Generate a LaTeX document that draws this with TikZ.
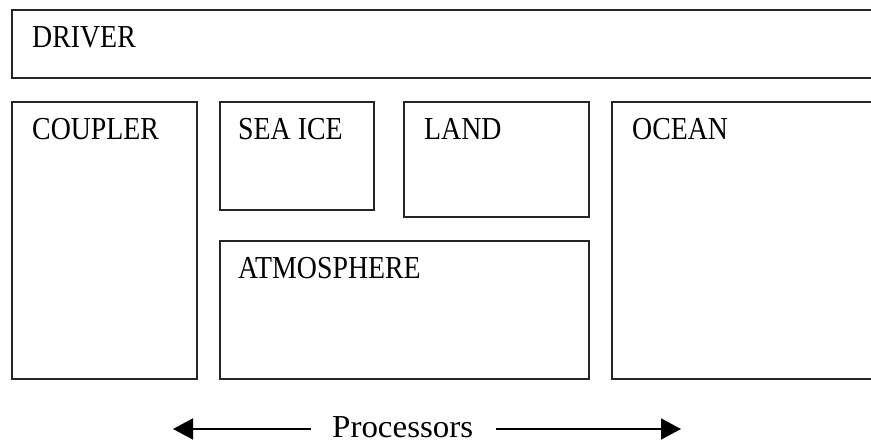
\documentclass[tikz,border=0pt]{standalone}
\usepackage{fontspec}
\setmainfont{Liberation Serif}
\newfontfamily\capfont[FakeStretch=0.87]{Liberation Serif}
\newfontfamily\procfont[FakeStretch=1.03]{Liberation Serif}
\usetikzlibrary{arrows.meta,calc}
\begin{document}
\begin{tikzpicture}[x=1pt,y=1pt,
  box/.style={draw=black!85,line width=1.6pt,inner sep=0pt,anchor=north west},
  lbl/.style={inner sep=0pt,anchor=base west,font=\capfont\fontsize{32}{36}\selectfont},
  arr/.style={line width=1.7pt,-{Triangle[length=20pt,width=21pt]}}]
\useasboundingbox (0,0) rectangle (871,-443);
\clip (0,0) rectangle (871,-443);
\node[box,minimum width=880,minimum height=68] (driver) at (11,-9) {};
\node[box,minimum width=185,minimum height=277] (coupler) at (11,-101) {};
\node[box,minimum width=154,minimum height=108] (seaice) at (219,-101) {};
\node[box,minimum width=185,minimum height=115] (land) at (403,-101) {};
\node[box,minimum width=369,minimum height=138] (atmos) at (219,-240) {};
\node[box,minimum width=280,minimum height=277] (ocean) at (611,-101) {};
\node[lbl] (driverT) at ($(driver.north west)+(21,-39)$) {DRIVER};
\node[lbl] (couplerT) at ($(coupler.north west)+(21,-39)$) {COUPLER};
\node[lbl] (seaiceT) at ($(seaice.north west)+(19,-39)$) {SEA ICE};
\node[lbl] (landT) at ($(land.north west)+(21,-39)$) {LAND};
\node[lbl] (atmosT) at ($(atmos.north west)+(19,-39)$) {ATMOSPHERE};
\node[lbl] (oceanT) at ($(ocean.north west)+(21,-39)$) {OCEAN};
\node[lbl,font=\procfont\fontsize{32}{34}\selectfont] (proc) at (332,-438) {Processors};
\coordinate (ltail) at (311,-429);
\coordinate (ltip) at (173,-429);
\coordinate (rtail) at (496,-429);
\coordinate (rtip) at (681,-429);
\draw[arr] (ltail) -- (ltip);
\draw[arr] (rtail) -- (rtip);
\end{tikzpicture}
\end{document}
